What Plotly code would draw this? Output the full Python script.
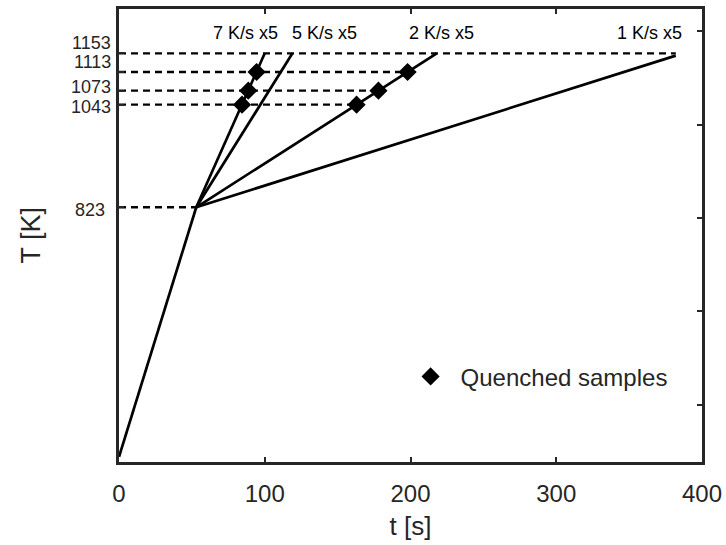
import plotly.graph_objects as go

# ---- data ----
heat_t = [0, 53]
heat_T = [288, 823]

rate_labels = ["7 K/s x5", "5 K/s x5", "2 K/s x5", "1 K/s x5"]
ramp_end_t = [100, 119, 218, 382]
ramp_end_T = [1153, 1153, 1153, 1148]
label_t = [87, 141, 221, 364]
label_T = [1196, 1196, 1196, 1196]

q_T = [1043, 1073, 1113]
q7_t = [84.4, 88.7, 94.4]
q2_t = [163, 178, 198]

dash_levels = [823, 1043, 1073, 1113, 1153]
dash_end_t = [53, 163, 178, 198, 382]

y_left_ticks = [823, 1043, 1073, 1113, 1153]
y_left_labels = ["823", "1043", "1073", "1113", "1153"]
y_label_shift = [-3, -2, 4, 10, 10]      # px nudges to keep the crowded labels apart
y_label_xshift = [-13, -7, -7, -7, -7]
y_right_ticks = [400, 600, 800, 1000, 1200]
x_ticks = [0, 100, 200, 300, 400]

x_range = [0, 400]
y_range = [277, 1248]

FONT = "Liberation Sans, Arial, sans-serif"
TXT = "#262626"

fig = go.Figure()

# dashed reference lines
for lev, te in zip(dash_levels, dash_end_t):
    fig.add_trace(go.Scatter(x=[0, te], y=[lev, lev], mode="lines",
                             line=dict(color="black", width=2.3, dash="7px,5px"),
                             showlegend=False, hoverinfo="skip"))

# heating line
fig.add_trace(go.Scatter(x=heat_t, y=heat_T, mode="lines",
                         line=dict(color="black", width=2.7), showlegend=False))

# ramps
for te, Te in zip(ramp_end_t, ramp_end_T):
    fig.add_trace(go.Scatter(x=[heat_t[-1], te], y=[heat_T[-1], Te], mode="lines",
                             line=dict(color="black", width=2.7), showlegend=False))

# quenched samples
fig.add_trace(go.Scatter(x=q7_t + q2_t, y=q_T + q_T, mode="markers",
                         marker=dict(symbol="diamond", size=14, color="black"),
                         name="Quenched samples", showlegend=True))

# rate labels
for lab, lx, ly in zip(rate_labels, label_t, label_T):
    fig.add_annotation(x=lx, y=ly, text=lab, showarrow=False,
                       font=dict(family=FONT, size=18, color="black"))

# left tick labels (as annotations so they can be nudged apart)
for v, lab, ys, xs in zip(y_left_ticks, y_left_labels, y_label_shift, y_label_xshift):
    fig.add_annotation(xref="paper", x=0, y=v, yref="y", text=lab, showarrow=False,
                       xanchor="right", yanchor="middle", xshift=xs, yshift=ys,
                       borderpad=0, font=dict(family=FONT, size=18, color=TXT))

# y title
fig.add_annotation(xref="paper", yref="paper", x=0, y=0.5, text="T [K]",
                   textangle=-90, showarrow=False, xanchor="center", yanchor="middle",
                   xshift=-89, font=dict(family=FONT, size=27, color=TXT))

axis_common = dict(showline=True, linecolor="#262626", linewidth=2.5,
                   ticks="inside", ticklen=5, tickwidth=2, tickcolor="#262626",
                   showgrid=False, zeroline=False, automargin=False)

fig.update_layout(
    width=726, height=545,
    margin=dict(l=119, r=24, t=9, b=83),
    plot_bgcolor="white", paper_bgcolor="white",
    font=dict(family=FONT, color=TXT),
    xaxis=dict(range=x_range, tickvals=x_ticks, mirror="ticks",
               tickfont=dict(size=24, color=TXT), ticklabelstandoff=8,
               title=dict(text="t [s]", font=dict(size=26, color=TXT), standoff=12),
               **axis_common),
    yaxis=dict(range=y_range, tickvals=y_left_ticks, mirror=True,
               showticklabels=False, **axis_common),
    yaxis2=dict(range=y_range, tickvals=y_right_ticks, overlaying="y", side="right",
                showticklabels=False, showline=False, ticks="inside", ticklen=5,
                tickwidth=2, tickcolor="#262626", showgrid=False, zeroline=False,
                automargin=False),
    legend=dict(x=0.483, y=0.188, xanchor="left", yanchor="middle",
                bgcolor="rgba(0,0,0,0)", borderwidth=0, itemwidth=50,
                font=dict(size=24, color=TXT, family=FONT)),
)

# invisible trace to activate the right axis
fig.add_trace(go.Scatter(x=[None], y=[None], yaxis="y2", showlegend=False))

fig.write_html("out.html", config={"displayModeBar": False},
               post_script="document.body.style.margin='0';document.body.style.padding='0';")
